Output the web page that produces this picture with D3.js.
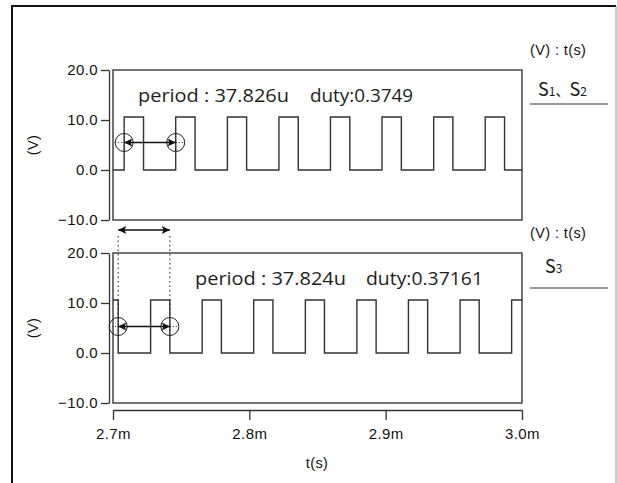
<!DOCTYPE html>
<html>
<head>
<meta charset="utf-8">
<script src="https://cdn.jsdelivr.net/npm/d3@7"></script>
<style>
  body { margin: 0; background: #fff; }
  .axis text { font-family: "Liberation Sans", Arial, sans-serif; font-size: 15px; fill: #111; letter-spacing: 0.4px; }
  .axis path, .axis line { stroke: #333; stroke-width: 1.3; }
  .lbl { font-family: "Liberation Sans", Arial, sans-serif; font-size: 14.5px; fill: #111; letter-spacing: 0.4px; }
  .note { font-family: "Open Sans", "Noto Sans", sans-serif; font-size: 18px; fill: #1e1e1e; }
</style>
</head>
<body>
<div id="chart"></div>
<script>
// time axis in ms, voltage in V
const tDomain = [2.7, 3.0];
const vDomain = [-10, 20];
const xTicks = [2.7, 2.8, 2.9, 3.0];
const yTicks = [-10, 0, 10, 20];
const highLevel = 10.6;

// S1, S2 edges (ms)
const topRises = [2.7082, 2.7460, 2.7839, 2.8217, 2.8595, 2.8973, 2.9352, 2.9730];
const topFalls = [2.7224, 2.7602, 2.7980, 2.8359, 2.8737, 2.9115, 2.9493, 2.9872];
// S3 edges (ms)
const botFalls = [2.7038, 2.7417, 2.7795, 2.8173, 2.8551, 2.8930, 2.9308, 2.9686];
const botRises = [2.7276, 2.7654, 2.8032, 2.8411, 2.8789, 2.9167, 2.9546, 2.9924];

const notes = [
    { period: "period : 37.826u", duty: "duty:0.3749" },
    { period: "period : 37.824u", duty: "duty:0.37161" }
];

const W = 617, H = 483;
const svg = d3.select("#chart").append("svg")
    .attr("width", W).attr("height", H);

// outer frame (no bottom edge)
svg.append("path").attr("d", "M12,483 V6 H616")
    .attr("fill", "none").attr("stroke", "#111").attr("stroke-width", 2);
svg.append("line").attr("x1", 616).attr("x2", 616).attr("y1", 6).attr("y2", 483)
    .attr("stroke", "#999").attr("stroke-width", 1);

const x = d3.scaleLinear().domain(tDomain).range([113, 522]);

function buildPoints(startLevel, rises, falls) {
    let edges = rises.map(t => [t, highLevel]).concat(falls.map(t => [t, 0]));
    edges.sort((a, b) => a[0] - b[0]);
    let pts = [[tDomain[0], startLevel]].concat(edges);
    pts.push([tDomain[1], pts[pts.length - 1][1]]);
    return pts;
}

const panels = [
    { top: 70, bottom: 220, start: 0, rises: topRises, falls: topFalls, cur: [topRises[0], topRises[1]], curV: 5.5,
      note: notes[0], noteX: [138, 310], noteW: [151, 103], legend: { y1: 55, sy: 96, sx: 538, ly: 104 } },
    { top: 253, bottom: 403, start: highLevel, rises: botRises, falls: botFalls, cur: [botFalls[0], botFalls[1]], curV: 5.3,
      note: notes[1], noteX: [195, 366], noteW: [151, 117], legend: { y1: 238, sy: 273, sx: 545, ly: 288 } }
];

// arrow marker
const defs = svg.append("defs");
defs.append("marker").attr("id", "ah")
    .attr("viewBox", "0 0 10 10").attr("refX", 10).attr("refY", 5)
    .attr("markerWidth", 10).attr("markerHeight", 8).attr("markerUnits", "userSpaceOnUse")
    .attr("orient", "auto-start-reverse")
    .append("path").attr("d", "M0,0 L10,5 L0,10 L2,5 Z").attr("fill", "#111");

panels.forEach((p, i) => {
    const y = d3.scaleLinear().domain(vDomain).range([p.bottom, p.top]);
    const g = svg.append("g");

    // plot box
    g.append("rect").attr("x", x(tDomain[0])).attr("y", p.top)
        .attr("width", x(tDomain[1]) - x(tDomain[0])).attr("height", p.bottom - p.top)
        .attr("fill", "none").attr("stroke", "#444").attr("stroke-width", 1.5);

    // y axis, offset left of box
    g.append("g").attr("class", "axis")
        .attr("transform", "translate(109,0)")
        .call(d3.axisLeft(y).tickValues(yTicks).tickFormat(d3.format(".1f")).tickSize(8).tickSizeOuter(0).tickPadding(3));

    g.append("text").attr("class", "lbl")
        .attr("transform", `translate(38,${(p.top + p.bottom) / 2}) rotate(-90)`)
        .attr("text-anchor", "middle").text("(V)");

    // waveform
    const line = d3.line().x(d => x(d[0])).y(d => y(d[1])).curve(d3.curveStepAfter);
    g.append("path").datum(buildPoints(p.start, p.rises, p.falls))
        .attr("d", line).attr("fill", "none").attr("stroke", "#333").attr("stroke-width", 1.4);

    // annotation text
    g.append("text").attr("class", "note").attr("x", p.noteX[0]).attr("y", p.top + 32)
        .attr("textLength", p.noteW[0]).attr("lengthAdjust", "spacingAndGlyphs").text(p.note.period);
    g.append("text").attr("class", "note").attr("x", p.noteX[1]).attr("y", p.top + 32)
        .attr("textLength", p.noteW[1]).attr("lengthAdjust", "spacingAndGlyphs").text(p.note.duty);

    // cursors
    const cy = y(p.curV);
    p.cur.forEach(t => {
        const cx = x(t);
        g.append("circle").attr("cx", cx).attr("cy", cy).attr("r", 9)
            .attr("fill", "none").attr("stroke", "#222").attr("stroke-width", 1);
        g.append("line").attr("x1", cx - 9).attr("x2", cx + 9).attr("y1", cy).attr("y2", cy)
            .attr("stroke", "#222").attr("stroke-dasharray", "1,2");
        g.append("line").attr("x1", cx).attr("x2", cx).attr("y1", cy - 9).attr("y2", cy + 9)
            .attr("stroke", "#222").attr("stroke-dasharray", "1,2");
    });
    g.append("line").attr("x1", x(p.cur[0])).attr("x2", x(p.cur[1])).attr("y1", cy).attr("y2", cy)
        .attr("stroke", "#111").attr("stroke-width", 1.3)
        .attr("marker-start", "url(#ah)").attr("marker-end", "url(#ah)");

    // legend at right
    g.append("text").attr("class", "lbl").attr("x", 530).attr("y", p.legend.y1).text("(V) : t(s)");
    const s = g.append("text").attr("x", p.legend.sx).attr("y", p.legend.sy)
        .attr("font-family", "'Noto Sans CJK SC', 'Liberation Serif', serif").attr("fill", "#1a1a1a");
    if (i === 0) {
        s.append("tspan").attr("font-size", 18).text("S");
        s.append("tspan").attr("font-size", 12).text("1");
        s.append("tspan").attr("font-size", 14).text("、");
        s.append("tspan").attr("font-size", 18).text("S");
        s.append("tspan").attr("font-size", 12).text("2");
    } else {
        s.append("tspan").attr("font-size", 18).text("S");
        s.append("tspan").attr("font-size", 12).text("3");
    }
    g.append("line").attr("x1", 530).attr("x2", 608).attr("y1", p.legend.ly).attr("y2", p.legend.ly)
        .attr("stroke", "#333").attr("stroke-width", 1.2);
});

// period marker between panels
const yb = d3.scaleLinear().domain(vDomain).range([403, 253]);
const m0 = x(botFalls[0]), m1 = x(botFalls[1]);
svg.append("line").attr("x1", m0).attr("x2", m1).attr("y1", 230).attr("y2", 230)
    .attr("stroke", "#111").attr("stroke-width", 1.3)
    .attr("marker-start", "url(#ah)").attr("marker-end", "url(#ah)");
[m0, m1].forEach(mx => {
    svg.append("line").attr("x1", mx).attr("x2", mx).attr("y1", 236).attr("y2", yb(5.3) - 9)
        .attr("stroke", "#222").attr("stroke-dasharray", "1.5,3");
});

// x axis
svg.append("g").attr("class", "axis")
    .attr("transform", "translate(0,410)")
    .call(d3.axisBottom(x).tickValues(xTicks).tickFormat(d => d.toFixed(1) + "m").tickSize(10).tickSizeOuter(0).tickPadding(8));

svg.append("text").attr("class", "lbl").attr("x", 317).attr("y", 468)
    .attr("text-anchor", "middle").text("t(s)");
</script>
</body>
</html>
